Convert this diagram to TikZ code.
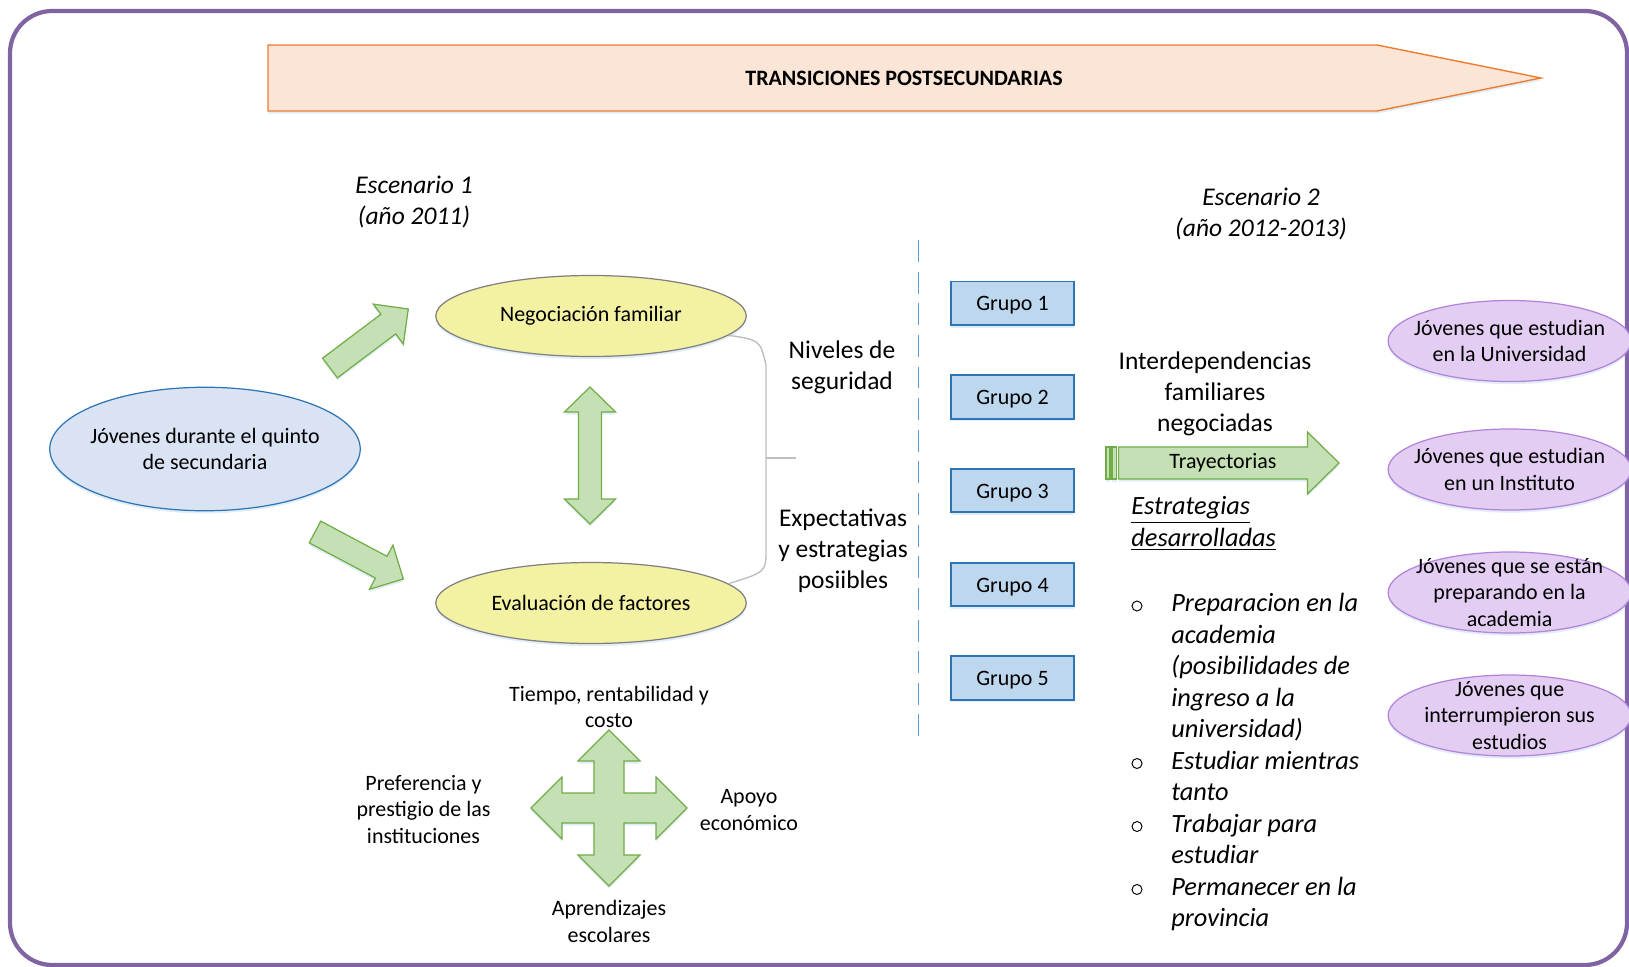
\documentclass[tikz,border=0pt]{standalone}
\usepackage{fontspec}
\setmainfont{Carlito}
\usetikzlibrary{shapes.geometric,shadows}

\definecolor{marco}{HTML}{8064A2}
\definecolor{naranja}{HTML}{ED7D31}
\definecolor{naranjaclaro}{HTML}{FBE5D6}
\definecolor{azul}{HTML}{2E75B6}
\definecolor{azulclaro}{HTML}{DAE3F3}
\definecolor{celeste}{HTML}{BDD7EE}
\definecolor{linea}{HTML}{5B9BD5}
\definecolor{amarillo}{HTML}{F3F1A2}
\definecolor{verde}{HTML}{70AD47}
\definecolor{verdeclaro}{HTML}{C5E0B4}
\definecolor{lila}{HTML}{E3CDF2}
\definecolor{morado}{HTML}{B383DB}
\definecolor{llave}{HTML}{BFBFBF}

\begin{document}
\begin{tikzpicture}[x=0.2mm,y=-0.2mm,
    sombra/.style={drop shadow={shadow xshift=0pt,shadow yshift=-1.5pt,opacity=0.18,fill=linea}},
    texto/.style={font=\fontsize{12.5}{15.2}\selectfont,align=center},
    grande/.style={font=\fontsize{14.5}{17.7}\selectfont,align=center},
    escenario/.style={font=\itshape\fontsize{14.5}{17.8}\selectfont,align=center},
    elipse/.style={ellipse,inner sep=0pt,line width=0.7pt,texto,sombra},
    resultado/.style={elipse,draw=morado,fill=lila,inner sep=-6pt,minimum width=48.6mm,minimum height=16.2mm},
    grupo/.style={rectangle,draw=azul,fill=celeste,line width=0.9pt,minimum width=24.7mm,minimum height=8.7mm,text height=11pt,text depth=2.4pt,texto,sombra},
    flecha/.style={draw=verde,fill=verdeclaro,line width=0.7pt,sombra},
    lista/.style={font=\itshape\fontsize{15}{17.92}\selectfont,align=left,inner sep=0pt,anchor=north west},
    vineta/.style={circle,draw,line width=0.55pt,inner sep=0pt,minimum size=2mm}]

    \useasboundingbox (0,0) rectangle (1629,967);
    \draw[marco,line width=2.4pt,rounded corners=24pt] (10,11) rectangle (1627,965);

    % flecha del titulo
    \draw[draw=naranja,fill=naranjaclaro,line width=0.8pt,sombra] (268,45) -- (1377,45) -- (1541,78) -- (1377,111) -- (268,111) -- cycle;
    \node[font=\bfseries\fontsize{12.5}{15}\selectfont] (titulo) at (904,78) {TRANSICIONES POSTSECUNDARIAS};

    \node[escenario] (escenario1) at (414,202) {Escenario 1\\(año 2011)};
    \node[escenario] (escenario2) at (1261,214) {Escenario 2\\(año 2012-2013)};

    % escenario 1
    \node[elipse,draw=azul,fill=azulclaro,inner xsep=-3pt,minimum width=62.1mm,minimum height=24.7mm] (jovenes) at (205,449) {Jóvenes durante el quinto\\de secundaria};
    \node[elipse,draw=gray,fill=amarillo,minimum width=62.1mm,minimum height=16.2mm] (negociacion) at (591,316) {Negociación familiar};
    \node[elipse,draw=gray,fill=amarillo,minimum width=62.1mm,minimum height=16.2mm] (evaluacion) at (591,603) {Evaluación de factores};

    \begin{scope}[shift={(330,368)},rotate=37]
        \draw[flecha] (0,-12.3) -- (73,-12.3) -- (73,-25) -- (98,0) -- (73,25) -- (73,12.3) -- (0,12.3) -- cycle;
    \end{scope}
    \begin{scope}[shift={(315,532)},rotate=-28]
        \draw[flecha] (0,-12.3) -- (75,-12.3) -- (75,-25) -- (100,0) -- (75,25) -- (75,12.3) -- (0,12.3) -- cycle;
    \end{scope}
    \draw[flecha] (590,387) -- (615.5,412) -- (601.5,412) -- (601.5,499) -- (615.5,499) -- (590,524)
        -- (564.5,499) -- (578.5,499) -- (578.5,412) -- (564.5,412) -- cycle;

    % llave
    \coordinate (llave) at (766,458);
    \draw[llave,line width=0.8pt] (negociacion.-8) .. controls (760,340) .. (766,365) -- (766,550)
        .. controls (766,572) .. (evaluacion.8);
    \draw[llave,line width=0.8pt] (llave) -- ++(30,0);

    \node[grande] (niveles) at (842,367) {Niveles de\\seguridad};
    \node[grande] (expectativas) at (843,551) {Expectativas\\y estrategias\\posiibles};

    % factores
    \begin{scope}[shift={(609,808)}]
        \draw[flecha] (0,-78) -- (31,-47) -- (15,-47) -- (15,-15) -- (47,-15) -- (47,-31) -- (78,0)
            -- (47,31) -- (47,15) -- (15,15) -- (15,47) -- (31,47) -- (0,78) -- (-31,47) -- (-15,47)
            -- (-15,15) -- (-47,15) -- (-47,31) -- (-78,0) -- (-47,-31) -- (-47,-15) -- (-15,-15)
            -- (-15,-47) -- (-31,-47) -- cycle;
    \end{scope}
    \node[texto] (tiempo) at (609,707) {Tiempo, rentabilidad y\\costo};
    \node[texto] (preferencia) at (423.5,809.5) {Preferencia y\\prestigio de las\\instituciones};
    \node[texto] (apoyo) at (749,810) {Apoyo\\económico};
    \node[texto] (aprendizajes) at (609,921.5) {Aprendizajes\\escolares};

    % division
    \coordinate (divisionA) at (918.5,240);
    \coordinate (divisionB) at (918.5,740);
    \draw[linea,line width=0.9pt,dash pattern=on 12.5pt off 5.5pt] (divisionA) -- (divisionB);

    % escenario 2
    \node[grupo] (grupo1) at (1012.5,303.4) {Grupo 1};
    \node[grupo] (grupo2) at (1012.5,397) {Grupo 2};
    \node[grupo] (grupo3) at (1012.5,490.5) {Grupo 3};
    \node[grupo] (grupo4) at (1012.5,584.5) {Grupo 4};
    \node[grupo] (grupo5) at (1012.5,678) {Grupo 5};

    \node[grande] (interdependencias) at (1215,394) {Interdependencias\\familiares\\negociadas};

    \draw[flecha] (1118.6,447) -- (1307.5,447) -- (1307.5,432) -- (1339,463) -- (1307.5,494) -- (1307.5,479) -- (1118.6,479) -- cycle;
    \draw[flecha] (1106,447) rectangle (1110,479);
    \draw[flecha] (1112,447) rectangle (1116.5,479);
    \node[texto] (trayectorias) at (1223,463) {Trayectorias};

    \node[lista] (estrategias) at (1131,492.5) {\strut\underline{Estrategias}\\\underline{desarrolladas}};

    \node[vineta] (vineta1) at (1137,606) {};
    \node[vineta] (vineta2) at (1137,763.5) {};
    \node[vineta] (vineta3) at (1137,826.5) {};
    \node[vineta] (vineta4) at (1137,889.5) {};
    \node[lista] (punto1) at (1171,589.5) {\strut Preparacion en la\\academia\\(posibilidades de\\ingreso a la\\universidad)};
    \node[lista] (punto2) at (1171,747) {\strut Estudiar mientras\\tanto};
    \node[lista] (punto3) at (1171,810) {\strut Trabajar para\\estudiar};
    \node[lista] (punto4) at (1171,873) {\strut Permanecer en la\\provincia};

    \node[resultado] (universidad) at (1509.6,341) {Jóvenes que estudian\\en la Universidad};
    \node[resultado] (instituto) at (1509.6,469.5) {Jóvenes que estudian\\en un Instituto};
    \node[resultado] (academia) at (1509.6,592.5) {Jóvenes que se están\\preparando en la\\academia};
    \node[resultado] (interrumpieron) at (1509.6,715.5) {Jóvenes que\\interrumpieron sus\\estudios};

\end{tikzpicture}
\end{document}
